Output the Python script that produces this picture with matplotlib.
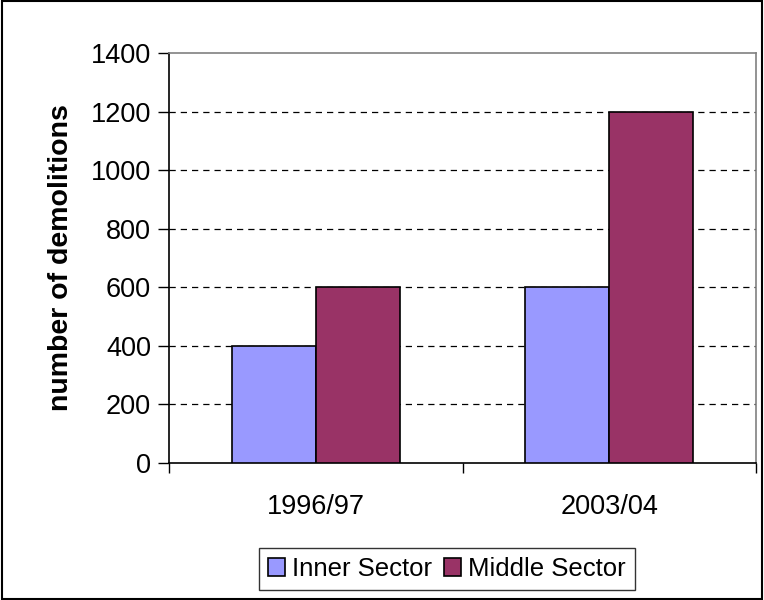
import numpy as np
import matplotlib.pyplot as plt
from matplotlib.patches import Rectangle

periods = ["1996/97", "2003/04"]
inner_sector = [400, 600]
middle_sector = [600, 1200]
y_ticks = [0, 200, 400, 600, 800, 1000, 1200, 1400]

plt.rcParams['font.family'] = ['Liberation Sans', 'DejaVu Sans']

fig = plt.figure(figsize=(7.64, 6.0), dpi=100)
ax = fig.add_axes([169/764, 1-463/600, (756-169)/764, (463-53)/600])

x = np.arange(len(periods))
w = 1/3.5
ax.bar(x - w/2, inner_sector, w, color='#9999FF', edgecolor='black', linewidth=1.2,
       label='Inner Sector', zorder=3)
ax.bar(x + w/2, middle_sector, w, color='#993366', edgecolor='black', linewidth=1.2,
       label='Middle Sector', zorder=3)

ax.set_xlim(-0.5, len(periods) - 0.5)
ax.set_ylim(0, 1400)
ax.set_yticks(y_ticks)
ax.set_yticklabels([str(v) for v in y_ticks], fontsize=19.5)
for v in y_ticks[1:-1]:
    ax.axhline(v, color='black', linestyle=(0, (5, 4)), linewidth=0.9, zorder=1)

ax.set_xticks(x)
ax.set_xticklabels(periods, fontsize=19.5)
ax.tick_params(axis='x', length=0, pad=22)
ax.set_xticks([-0.5, 0.5, 1.5], minor=True)
ax.tick_params(axis='x', which='minor', length=7, width=1, direction='out')
ax.tick_params(axis='y', length=8, width=1, direction='out', pad=5)

ax.spines['left'].set_color('black')
ax.spines['bottom'].set_color('black')
ax.spines['top'].set_color('#808080')
ax.spines['right'].set_color('#808080')
for s in ax.spines.values():
    s.set_linewidth(1.2)

ax.set_ylabel('number of demolitions', fontsize=20.5, fontweight='bold', labelpad=12)

leg = ax.legend(loc='center', bbox_to_anchor=(447/764, 1-569/600),
                bbox_transform=fig.transFigure, ncol=2, fontsize=18.5,
                frameon=True, fancybox=False, handlelength=0.65, handleheight=0.75,
                handletextpad=0.3, columnspacing=0.45, borderpad=0.35, borderaxespad=0)
leg.get_frame().set_edgecolor('black')
leg.get_frame().set_linewidth(1)

fig.patches.append(Rectangle((0.002, 0.002), 0.996, 0.996, transform=fig.transFigure,
                             fill=False, edgecolor='black', linewidth=1.5))

fig.savefig('out.png', dpi=100)
